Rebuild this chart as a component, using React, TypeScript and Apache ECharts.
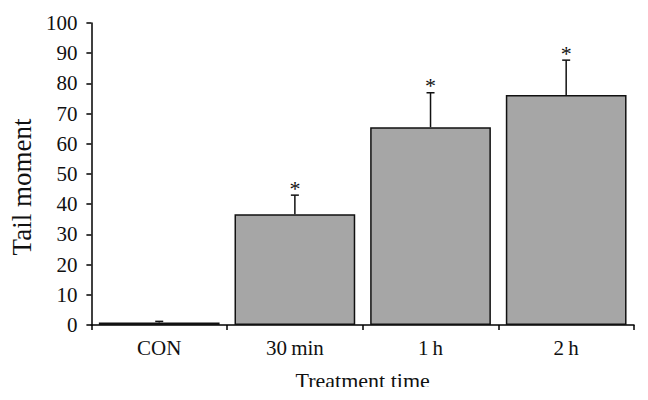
import React, { useEffect, useRef } from "react";
import * as echarts from "echarts";

const categories = ["CON", "30\u2009min", "1\u2009h", "2\u2009h"];
const means = [0.8, 36.7, 65.5, 76.2];
const errTops = [1.2, 43.0, 76.9, 87.7];
const significant = [false, true, true, true];
const yTicks = { min: 0, max: 100, interval: 10 };

const FONT = "'Liberation Serif', 'DejaVu Serif', serif";

export default function App() {
  const ref = useRef<HTMLDivElement>(null);
  useEffect(() => {
    if (!ref.current) return;
    const chart = echarts.init(ref.current, null, { renderer: "svg" });
    const errData = categories.map((_, i) => [i, means[i], errTops[i], significant[i] ? 1 : 0]);
    chart.setOption({
      animation: false,
      grid: { left: 88, right: 14, top: 23, bottom: 75, containLabel: false },
      xAxis: {
        type: "category",
        data: categories,
        name: "Treatment time",
        nameLocation: "middle",
        nameGap: 44,
        nameTextStyle: { fontFamily: FONT, fontSize: 22, color: "#111" },
        axisLine: { lineStyle: { color: "#000", width: 1.5 } },
        axisTick: { show: true, length: 5, lineStyle: { color: "#000", width: 1.5 } },
        axisLabel: { fontFamily: FONT, fontSize: 21, color: "#111", margin: 12 },
      },
      yAxis: {
        type: "value",
        min: yTicks.min,
        max: yTicks.max,
        interval: yTicks.interval,
        name: "Tail moment",
        nameLocation: "middle",
        nameGap: 51,
        nameTextStyle: { fontFamily: FONT, fontSize: 27, color: "#111", padding: [0, 26, 0, 0] },
        axisLine: { show: true, lineStyle: { color: "#000", width: 1.5 } },
        axisTick: { show: true, length: 5, lineStyle: { color: "#000", width: 1.5 } },
        axisLabel: { fontFamily: FONT, fontSize: 21, color: "#111", margin: 14 },
        splitLine: { show: false },
      },
      graphic: [
        {
          type: "rect",
          left: 0,
          top: 387,
          z: 100,
          shape: { width: 648, height: 13 },
          style: { fill: "#fff" },
        },
      ],
      series: [
        {
          type: "bar",
          data: means,
          barCategoryGap: "11%",
          itemStyle: { color: "#a6a6a6", borderColor: "#111", borderWidth: 1.5 },
        },
        {
          type: "custom",
          data: errData,
          z: 10,
          renderItem: (params: any, api: any) => {
            const idx = api.value(0);
            const base = api.coord([idx, api.value(1)]);
            const top = api.coord([idx, api.value(2)]);
            const sig = api.value(3);
            const children: any[] = [
              {
                type: "line",
                shape: { x1: base[0], y1: base[1], x2: top[0], y2: top[1] },
                style: { stroke: "#111", lineWidth: 1.5 },
              },
              {
                type: "line",
                shape: { x1: top[0] - 4, y1: top[1], x2: top[0] + 4, y2: top[1] },
                style: { stroke: "#111", lineWidth: 1.5 },
              },
            ];
            if (sig) {
              children.push({
                type: "text",
                x: top[0],
                y: top[1] - 7,
                style: {
                  text: "*",
                  fontFamily: FONT,
                  fontSize: 22,
                  fill: "#111",
                  align: "center",
                  verticalAlign: "middle",
                },
              });
            }
            return { type: "group", children };
          },
        },
      ],
    });
    return () => chart.dispose();
  }, []);
  return <div ref={ref} style={{ width: 648, height: 400, margin: -8 }} />;
}
